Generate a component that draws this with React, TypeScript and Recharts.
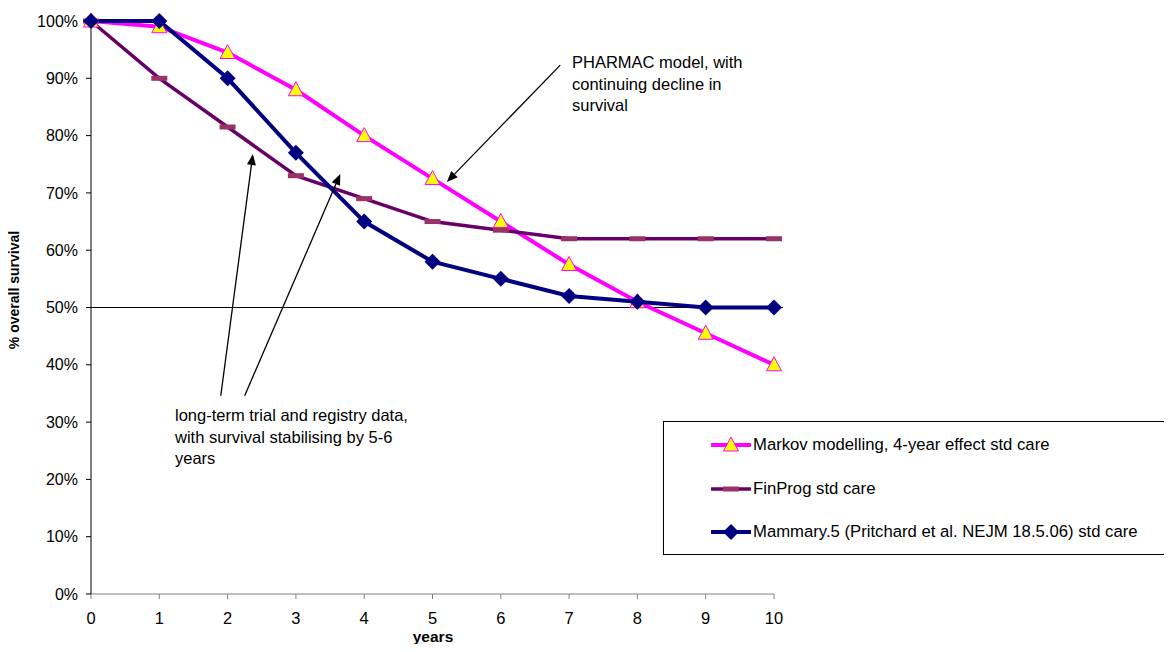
import React from "react";
import { LineChart, Line, XAxis, YAxis, ReferenceLine, Legend } from "recharts";

const years = [0, 1, 2, 3, 4, 5, 6, 7, 8, 9, 10];
const markov = [100, 99, 94.5, 88, 80, 72.5, 65, 57.5, 51, 45.5, 40];
const finprog = [100, 90, 81.5, 73, 69, 65, 63.5, 62, 62, 62, 62];
const mammary = [100, 100, 90, 77, 65, 58, 55, 52, 51, 50, 50];
const seriesNames = [
  "Markov modelling, 4-year effect std care",
  "FinProg std care",
  "Mammary.5 (Pritchard et al. NEJM 18.5.06) std care",
];
const yTicks = [0, 10, 20, 30, 40, 50, 60, 70, 80, 90, 100];

const data = years.map((y, i) => ({
  year: y,
  markov: markov[i],
  finprog: finprog[i],
  mammary: mammary[i],
}));

const FONT = '"Liberation Sans", Arial, Helvetica, sans-serif';
const MAGENTA = "#FF00FF";
const PLUM = "#660066";
const PLUM_DASH = "#993366";
const NAVY = "#000080";

// annotation arrows, in data units (tail -> head)
const arrows = [
  { x1: 6.87, y1: 92.3, x2: 5.21, y2: 71.9 },
  { x1: 1.9, y1: 34.6, x2: 2.37, y2: 76.8 },
  { x1: 2.25, y1: 34.6, x2: 3.65, y2: 73.3 },
];

const Triangle = ({ cx, cy }: any) => (
  <polygon
    points={`${cx},${cy - 8} ${cx + 7.5},${cy + 6} ${cx - 7.5},${cy + 6}`}
    fill="#FFFF00"
    stroke={MAGENTA}
    strokeWidth={1}
  />
);

const Dash = ({ cx, cy }: any) => (
  <rect x={cx - 8} y={cy - 2.5} width={16} height={5} fill={PLUM_DASH} />
);

const Diamond = ({ cx, cy }: any) => (
  <polygon
    points={`${cx},${cy - 8} ${cx + 8},${cy} ${cx},${cy + 8} ${cx - 8},${cy}`}
    fill={NAVY}
  />
);

const Arrow = (props: any) => {
  const { x1, y1, x2, y2 } = props;
  const ang = Math.atan2(y2 - y1, x2 - x1);
  const len = 11;
  const half = 4.5;
  const bx = x2 - len * Math.cos(ang);
  const by = y2 - len * Math.sin(ang);
  const px = -Math.sin(ang) * half;
  const py = Math.cos(ang) * half;
  return (
    <g>
      <line x1={x1} y1={y1} x2={bx} y2={by} stroke="#000" strokeWidth={1.3} />
      <polygon
        points={`${x2},${y2} ${bx + px},${by + py} ${bx - px},${by - py}`}
        fill="#000"
      />
    </g>
  );
};

const legendItems = [
  { name: seriesNames[0], color: MAGENTA, Marker: Triangle, width: 4 },
  { name: seriesNames[1], color: PLUM, Marker: Dash, width: 3.5 },
  { name: seriesNames[2], color: NAVY, Marker: Diamond, width: 4 },
];

const renderLegend = () => (
  <div
    style={{
      width: 503,
      height: 132,
      border: "1px solid #000",
      background: "#fff",
      fontFamily: FONT,
      fontSize: 16.7,
      color: "#000",
      position: "relative",
    }}
  >
    {legendItems.map((it, i) => (
      <div
        key={it.name}
        style={{
          position: "absolute",
          left: 47,
          top: 23 + i * 43.5 - 10,
          height: 20,
          display: "flex",
          alignItems: "center",
          whiteSpace: "nowrap",
        }}
      >
        <svg width={40} height={20} style={{ marginRight: 2 }}>
          <line x1={1} y1={10} x2={39} y2={10} stroke={it.color} strokeWidth={it.width} strokeLinecap="round" />
          <it.Marker cx={20} cy={10} />
        </svg>
        <span>{it.name}</span>
      </div>
    ))}
  </div>
);

export default function App() {
  return (
    <div
      style={{
        position: "relative",
        width: 1172,
        height: 652,
        margin: -8,
        background: "#fff",
        fontFamily: FONT,
      }}
    >
      <LineChart
        width={1172}
        height={652}
        data={data}
        margin={{ top: 21, right: 398, bottom: 0, left: 0 }}
      >
        <XAxis
          dataKey="year"
          type="number"
          domain={[0, 10]}
          ticks={years}
          height={58}
          axisLine={{ stroke: "#808080" }}
          tickLine={{ stroke: "#808080" }}
          tickSize={5}
          tickMargin={13}
          tick={{ fill: "#000", fontSize: 16.5, fontFamily: FONT }}
        />
        <YAxis
          type="number"
          domain={[0, 100]}
          ticks={yTicks}
          width={91}
          tickFormatter={(v: number) => `${v}%`}
          axisLine={{ stroke: "#000" }}
          tickLine={{ stroke: "#000" }}
          tickSize={5}
          tickMargin={8}
          tick={{ fill: "#000", fontSize: 16, fontFamily: FONT }}
        />
        <ReferenceLine
          segment={[
            { x: 0, y: 50 },
            { x: 10.13, y: 50 },
          ]}
          ifOverflow="visible"
          stroke="#000"
          strokeWidth={1}
        />
        <Line
          dataKey="markov"
          name={seriesNames[0]}
          stroke={MAGENTA}
          strokeWidth={4}
          dot={(p: any) => <Triangle key={`t${p.index}`} cx={p.cx} cy={p.cy} />}
          activeDot={false}
          isAnimationActive={false}
        />
        <Line
          dataKey="finprog"
          name={seriesNames[1]}
          stroke={PLUM}
          strokeWidth={3.5}
          dot={(p: any) => <Dash key={`d${p.index}`} cx={p.cx} cy={p.cy} />}
          activeDot={false}
          isAnimationActive={false}
        />
        <Line
          dataKey="mammary"
          name={seriesNames[2]}
          stroke={NAVY}
          strokeWidth={4}
          dot={(p: any) => <Diamond key={`m${p.index}`} cx={p.cx} cy={p.cy} />}
          activeDot={false}
          isAnimationActive={false}
        />
        {arrows.map((a, i) => (
          <ReferenceLine
            key={`a${i}`}
            segment={[
              { x: a.x1, y: a.y1 },
              { x: a.x2, y: a.y2 },
            ]}
            ifOverflow="visible"
            shape={Arrow}
          />
        ))}
        <Legend
          layout="vertical"
          align="center"
          verticalAlign="middle"
          wrapperStyle={{ left: 663, top: 421, width: 505, height: 134 }}
          content={renderLegend}
        />
      </LineChart>
      <svg
        width={1172}
        height={652}
        style={{ position: "absolute", left: 0, top: 0, pointerEvents: "none" }}
        fontFamily={FONT}
      >
        <text x={572} y={68} fontSize={16.5} fill="#000">
          <tspan x={572} dy={0}>PHARMAC model, with</tspan>
          <tspan x={572} dy={21.7}>continuing decline in</tspan>
          <tspan x={572} dy={21.7}>survival</tspan>
        </text>
        <text x={175} y={421} fontSize={16.5} fill="#000">
          <tspan x={175} dy={0}>long-term trial and registry data,</tspan>
          <tspan x={175} dy={21.7}>with survival stabilising by 5-6</tspan>
          <tspan x={175} dy={21.7}>years</tspan>
        </text>
        <text x={433} y={642} fontSize={15.5} fontWeight="bold" textAnchor="middle" fill="#000">
          years
        </text>
        <text
          x={19}
          y={290}
          fontSize={14}
          fontWeight="bold"
          textAnchor="middle"
          transform="rotate(-90 19 290)"
          fill="#000"
        >
          % overall survival
        </text>
      </svg>
    </div>
  );
}
